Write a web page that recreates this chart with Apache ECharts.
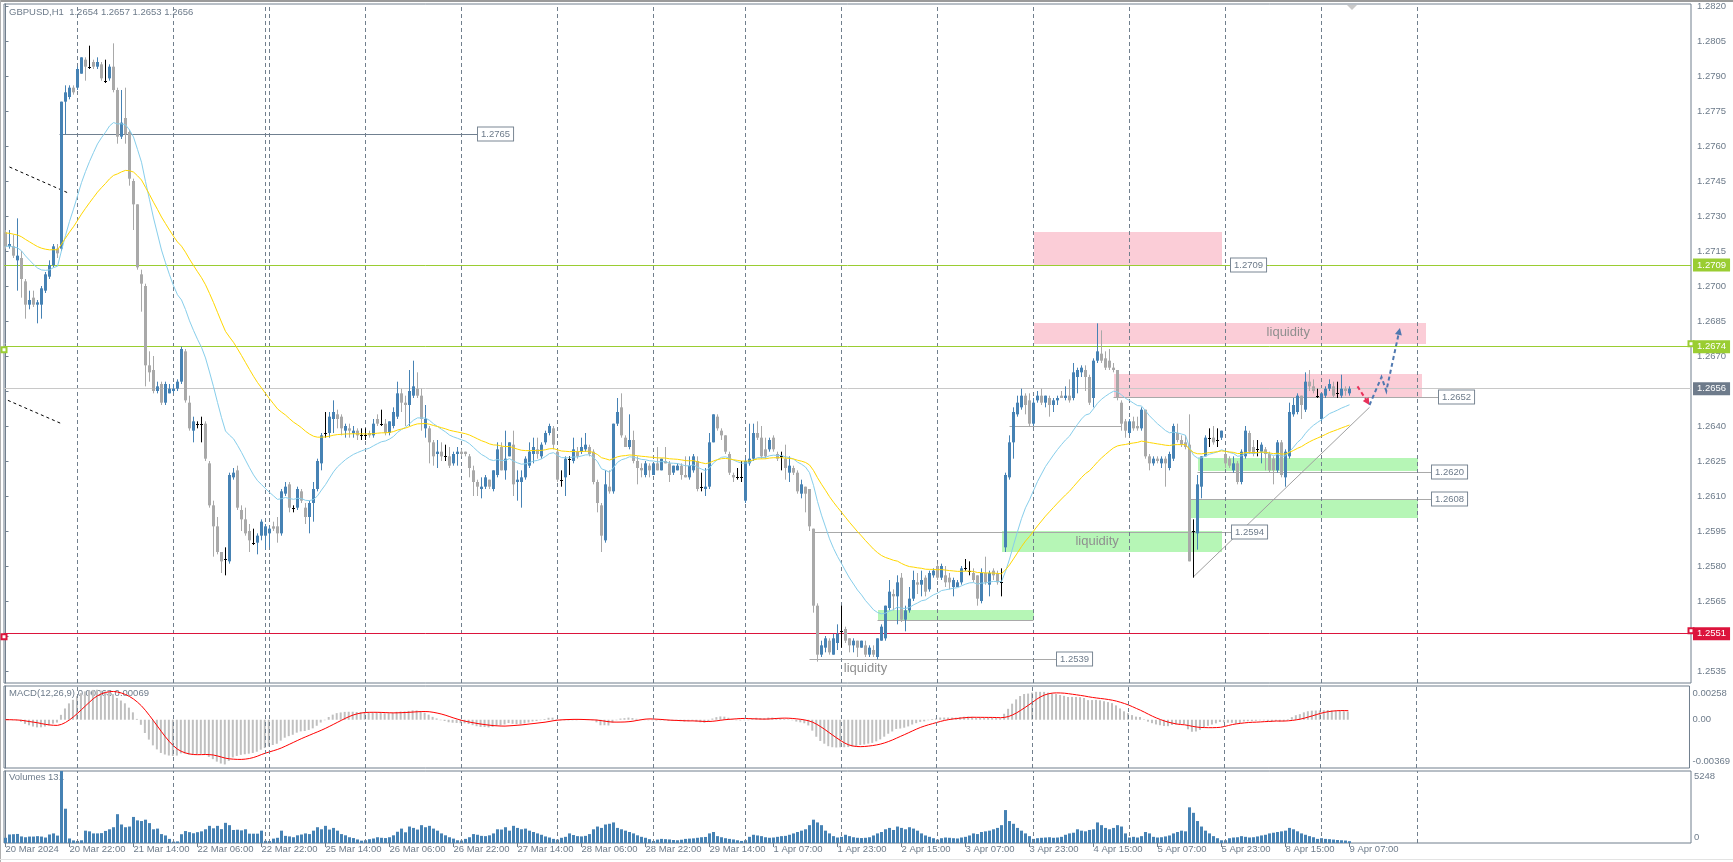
<!DOCTYPE html>
<html><head><meta charset="utf-8">
<script src="https://cdn.jsdelivr.net/npm/echarts@6/dist/echarts.min.js"></script>
<style>html,body{margin:0;padding:0;background:#fff;}#c{width:1733px;height:862px;}</style>
</head><body><div id="c"></div>
<script>
// ---------------- DATA (GBPUSD H1, 20 Mar 2024 06:00 .. 9 Apr 2024 07:00) ----------------
const opens = [
1.2723,1.2717,1.2717,1.2711,1.2712,1.2702,1.2692,1.2695,1.2692,1.2692,
1.2698,1.2704,1.2709,1.2716,1.2716,1.2779,1.2781,1.2785,1.2785,1.2791,
1.2797,1.2794,1.2796,1.2794,1.2795,1.2788,1.2789,1.2794,1.2784,1.2764,
1.2772,1.2766,1.2745,1.2735,1.2705,1.2700,1.2666,1.2664,1.2655,1.2658,
1.2650,1.2654,1.2655,1.2656,1.2659,1.2672,1.2650,1.2638,1.2641,1.2641,
1.2641,1.2624,1.2606,1.2597,1.2586,1.2583,1.2582,1.2618,1.2621,1.2604,
1.2600,1.2595,1.2590,1.2590,1.2593,1.2593,1.2594,1.2597,1.2597,1.2594,
1.2611,1.2615,1.2605,1.2605,1.2612,1.2605,1.2601,1.2607,1.2613,1.2624,
1.2637,1.2637,1.2643,1.2645,1.2644,1.2638,1.2639,1.2637,1.2638,1.2636,
1.2636,1.2637,1.2636,1.2643,1.2641,1.2641,1.2637,1.2640,1.2644,1.2654,
1.2650,1.2649,1.2653,1.2656,1.2653,1.2639,1.2639,1.2633,1.2628,1.2629,
1.2627,1.2627,1.2624,1.2628,1.2629,1.2629,1.2627,1.2621,1.2616,1.2613,
1.2614,1.2617,1.2613,1.2619,1.2631,1.2621,1.2627,1.2632,1.2616,1.2616,
1.2618,1.2623,1.2628,1.2630,1.2627,1.2633,1.2637,1.2639,1.2629,1.2617,
1.2618,1.2626,1.2625,1.2629,1.2629,1.2630,1.2631,1.2629,1.2616,1.2606,
1.2591,1.2614,1.2612,1.2641,1.2648,1.2635,1.2631,1.2634,1.2625,1.2622,
1.2619,1.2623,1.2619,1.2624,1.2621,1.2625,1.2624,1.2620,1.2621,1.2623,
1.2619,1.2618,1.2621,1.2625,1.2614,1.2613,1.2614,1.2633,1.2644,1.2638,
1.2636,1.2628,1.2619,1.2618,1.2618,1.2608,1.2624,1.2626,1.2637,1.2635,
1.2630,1.2630,1.2635,1.2628,1.2627,1.2626,1.2620,1.2622,1.2620,1.2611,
1.2614,1.2613,1.2596,1.2563,1.2542,1.2545,1.2548,1.2542,1.2547,1.2552,
1.2553,1.2549,1.2546,1.2548,1.2545,1.2546,1.2542,1.2544,1.2541,1.2548,
1.2549,1.2562,1.2568,1.2567,1.2575,1.2557,1.2561,1.2566,1.2573,1.2572,
1.2575,1.2570,1.2576,1.2580,1.2575,1.2576,1.2575,1.2571,1.2571,1.2573,
1.2579,1.2578,1.2577,1.2576,1.2565,1.2577,1.2572,1.2578,1.2577,1.2573,
1.2588,1.2618,1.2633,1.2645,1.2648,1.2653,1.2651,1.2641,1.2651,1.2653,
1.2650,1.2652,1.2649,1.2651,1.2653,1.2652,1.2653,1.2652,1.2661,1.2663,
1.2664,1.2661,1.2652,1.2668,1.2671,1.2669,1.2668,1.2665,1.2664,1.2650,
1.2642,1.2637,1.2642,1.2640,1.2639,1.2647,1.2627,1.2624,1.2626,1.2624,
1.2626,1.2622,1.2626,1.2637,1.2634,1.2633,1.2632,1.2595,1.2594,1.2614,
1.2627,1.2635,1.2635,1.2634,1.2635,1.2628,1.2626,1.2621,1.2624,1.2616,
1.2627,1.2637,1.2631,1.2630,1.2629,1.2630,1.2628,1.2626,1.2621,1.2633,
1.2618,1.2627,1.2645,1.2646,1.2653,1.2647,1.2659,1.2657,1.2653,1.2643,
1.2653,1.2656,1.2657,1.2654,1.2653,1.2656,1.2654];
const highs = [
1.2724,1.2724,1.2722,1.2729,1.2715,1.2703,1.2698,1.2698,1.2694,1.2700,
1.2706,1.2711,1.2718,1.2718,1.2779,1.2786,1.2786,1.2786,1.2794,1.2798,
1.2798,1.2803,1.2797,1.2798,1.2796,1.2797,1.2795,1.2804,1.2785,1.2784,
1.2785,1.2767,1.2746,1.2735,1.2707,1.2701,1.2672,1.2670,1.2659,1.2659,
1.2659,1.2658,1.2658,1.2660,1.2674,1.2673,1.2653,1.2644,1.2642,1.2644,
1.2642,1.2625,1.2608,1.2601,1.2586,1.2588,1.2620,1.2622,1.2623,1.2606,
1.2605,1.2598,1.2596,1.2594,1.2600,1.2598,1.2597,1.2599,1.2601,1.2613,
1.2616,1.2616,1.2606,1.2614,1.2613,1.2607,1.2608,1.2616,1.2626,1.2637,
1.2646,1.2646,1.2651,1.2647,1.2645,1.2641,1.2641,1.2640,1.2639,1.2639,
1.2639,1.2638,1.2643,1.2645,1.2647,1.2643,1.2642,1.2648,1.2659,1.2656,
1.2653,1.2664,1.2668,1.2663,1.2656,1.2649,1.2640,1.2634,1.2634,1.2633,
1.2632,1.2631,1.2629,1.2631,1.2630,1.2629,1.2628,1.2623,1.2617,1.2618,
1.2619,1.2617,1.2621,1.2633,1.2633,1.2638,1.2633,1.2638,1.2621,1.2621,
1.2627,1.2633,1.2635,1.2635,1.2633,1.2638,1.2641,1.2640,1.2630,1.2621,
1.2627,1.2627,1.2635,1.2631,1.2635,1.2637,1.2632,1.2630,1.2617,1.2607,
1.2621,1.2621,1.2641,1.2652,1.2654,1.2636,1.2645,1.2638,1.2627,1.2624,
1.2625,1.2624,1.2624,1.2631,1.2626,1.2631,1.2625,1.2623,1.2624,1.2624,
1.2627,1.2627,1.2628,1.2627,1.2620,1.2622,1.2637,1.2645,1.2645,1.2639,
1.2636,1.2629,1.2620,1.2622,1.2625,1.2626,1.2641,1.2641,1.2642,1.2640,
1.2635,1.2635,1.2636,1.2629,1.2629,1.2632,1.2627,1.2623,1.2621,1.2617,
1.2614,1.2613,1.2596,1.2564,1.2548,1.2550,1.2549,1.2551,1.2555,1.2563,
1.2554,1.2549,1.2549,1.2548,1.2548,1.2548,1.2546,1.2546,1.2549,1.2555,
1.2563,1.2574,1.2570,1.2576,1.2577,1.2563,1.2571,1.2578,1.2577,1.2578,
1.2576,1.2578,1.2579,1.2581,1.2581,1.2580,1.2577,1.2575,1.2574,1.2580,
1.2583,1.2582,1.2579,1.2576,1.2579,1.2584,1.2578,1.2579,1.2578,1.2579,
1.2620,1.2636,1.2648,1.2653,1.2656,1.2654,1.2654,1.2652,1.2655,1.2656,
1.2653,1.2653,1.2652,1.2653,1.2655,1.2657,1.2660,1.2667,1.2665,1.2666,
1.2666,1.2662,1.2669,1.2684,1.2681,1.2672,1.2673,1.2667,1.2664,1.2651,
1.2643,1.2643,1.2644,1.2644,1.2648,1.2647,1.2628,1.2627,1.2627,1.2627,
1.2627,1.2629,1.2641,1.2641,1.2636,1.2636,1.2645,1.2600,1.2619,1.2627,
1.2636,1.2639,1.2640,1.2639,1.2638,1.2629,1.2627,1.2627,1.2625,1.2630,
1.2640,1.2638,1.2634,1.2634,1.2633,1.2631,1.2629,1.2627,1.2634,1.2634,
1.2630,1.2650,1.2652,1.2654,1.2653,1.2663,1.2664,1.2660,1.2656,1.2654,
1.2657,1.2660,1.2659,1.2659,1.2662,1.2657,1.2657];
const lows = [
1.2716,1.2716,1.2712,1.2698,1.2695,1.2686,1.2690,1.2691,1.2684,1.2686,
1.2697,1.2703,1.2708,1.2712,1.2715,1.2765,1.2780,1.2782,1.2784,1.2791,
1.2788,1.2793,1.2793,1.2793,1.2788,1.2787,1.2788,1.2783,1.2761,1.2763,
1.2761,1.2743,1.2724,1.2707,1.2689,1.2657,1.2659,1.2654,1.2654,1.2649,
1.2649,1.2654,1.2654,1.2655,1.2658,1.2650,1.2638,1.2633,1.2639,1.2633,
1.2625,1.2605,1.2584,1.2585,1.2577,1.2576,1.2581,1.2617,1.2604,1.2595,
1.2593,1.2586,1.2589,1.2585,1.2591,1.2587,1.2588,1.2595,1.2590,1.2593,
1.2610,1.2603,1.2603,1.2604,1.2607,1.2598,1.2594,1.2599,1.2612,1.2621,
1.2635,1.2635,1.2637,1.2639,1.2636,1.2635,1.2635,1.2635,1.2634,1.2634,
1.2634,1.2635,1.2635,1.2640,1.2640,1.2636,1.2636,1.2639,1.2643,1.2646,
1.2640,1.2640,1.2652,1.2652,1.2638,1.2635,1.2624,1.2623,1.2622,1.2625,
1.2625,1.2622,1.2623,1.2623,1.2627,1.2627,1.2618,1.2610,1.2610,1.2609,
1.2613,1.2613,1.2612,1.2618,1.2621,1.2617,1.2627,1.2610,1.2608,1.2605,
1.2617,1.2622,1.2624,1.2626,1.2626,1.2632,1.2636,1.2630,1.2616,1.2614,
1.2610,1.2619,1.2624,1.2626,1.2628,1.2629,1.2627,1.2615,1.2603,1.2586,
1.2590,1.2611,1.2611,1.2640,1.2635,1.2631,1.2630,1.2624,1.2615,1.2618,
1.2618,1.2618,1.2619,1.2621,1.2621,1.2624,1.2616,1.2619,1.2621,1.2617,
1.2618,1.2617,1.2620,1.2612,1.2612,1.2610,1.2613,1.2633,1.2638,1.2634,
1.2628,1.2619,1.2616,1.2617,1.2616,1.2607,1.2623,1.2625,1.2634,1.2626,
1.2626,1.2629,1.2629,1.2625,1.2621,1.2617,1.2616,1.2619,1.2611,1.2609,
1.2603,1.2595,1.2560,1.2539,1.2541,1.2543,1.2542,1.2542,1.2544,1.2545,
1.2547,1.2543,1.2543,1.2541,1.2545,1.2541,1.2541,1.2541,1.2540,1.2548,
1.2548,1.2561,1.2561,1.2555,1.2556,1.2552,1.2560,1.2565,1.2568,1.2567,
1.2567,1.2569,1.2575,1.2574,1.2574,1.2571,1.2570,1.2567,1.2571,1.2572,
1.2578,1.2576,1.2573,1.2563,1.2564,1.2572,1.2567,1.2574,1.2572,1.2567,
1.2586,1.2617,1.2626,1.2644,1.2647,1.2645,1.2640,1.2640,1.2650,1.2649,
1.2648,1.2644,1.2646,1.2649,1.2652,1.2651,1.2650,1.2651,1.2654,1.2661,
1.2655,1.2649,1.2648,1.2667,1.2667,1.2664,1.2664,1.2663,1.2651,1.2638,
1.2635,1.2636,1.2638,1.2638,1.2638,1.2626,1.2621,1.2623,1.2624,1.2622,
1.2614,1.2621,1.2625,1.2633,1.2631,1.2630,1.2582,1.2575,1.2587,1.2609,
1.2627,1.2631,1.2632,1.2631,1.2634,1.2622,1.2622,1.2620,1.2615,1.2615,
1.2626,1.2628,1.2627,1.2627,1.2624,1.2621,1.2620,1.2615,1.2620,1.2618,
1.2614,1.2626,1.2644,1.2645,1.2643,1.2646,1.2655,1.2654,1.2652,1.2642,
1.2652,1.2655,1.2652,1.2652,1.2652,1.2653,1.2653];
const closes = [
1.2717,1.2718,1.2713,1.2713,1.2703,1.2692,1.2694,1.2692,1.2693,1.2699,
1.2705,1.2709,1.2717,1.2714,1.2779,1.2783,1.2785,1.2783,1.2793,1.2798,
1.2794,1.2794,1.2794,1.2796,1.2789,1.2788,1.2794,1.2784,1.2764,1.2770,
1.2765,1.2746,1.2735,1.2708,1.2701,1.2666,1.2663,1.2655,1.2657,1.2650,
1.2658,1.2656,1.2656,1.2659,1.2673,1.2651,1.2639,1.2642,1.2641,1.2641,
1.2626,1.2606,1.2597,1.2586,1.2582,1.2583,1.2619,1.2620,1.2605,1.2600,
1.2594,1.2591,1.2590,1.2593,1.2599,1.2597,1.2596,1.2596,1.2594,1.2612,
1.2614,1.2605,1.2605,1.2613,1.2608,1.2601,1.2607,1.2613,1.2625,1.2636,
1.2637,1.2644,1.2646,1.2643,1.2639,1.2640,1.2638,1.2638,1.2636,1.2636,
1.2636,1.2636,1.2641,1.2641,1.2641,1.2637,1.2642,1.2646,1.2654,1.2650,
1.2649,1.2655,1.2657,1.2653,1.2643,1.2643,1.2633,1.2627,1.2629,1.2627,
1.2627,1.2623,1.2628,1.2629,1.2628,1.2628,1.2622,1.2616,1.2614,1.2614,
1.2618,1.2614,1.2621,1.2630,1.2621,1.2626,1.2633,1.2615,1.2617,1.2618,
1.2626,1.2629,1.2631,1.2628,1.2632,1.2637,1.2640,1.2632,1.2617,1.2617,
1.2626,1.2626,1.2630,1.2627,1.2631,1.2632,1.2628,1.2616,1.2607,1.2593,
1.2615,1.2612,1.2641,1.2646,1.2636,1.2631,1.2634,1.2625,1.2622,1.2621,
1.2624,1.2621,1.2624,1.2621,1.2626,1.2624,1.2619,1.2623,1.2623,1.2619,
1.2618,1.2623,1.2627,1.2613,1.2614,1.2614,1.2633,1.2645,1.2639,1.2636,
1.2629,1.2620,1.2618,1.2618,1.2618,1.2625,1.2626,1.2637,1.2635,1.2627,
1.2627,1.2634,1.2630,1.2626,1.2627,1.2622,1.2623,1.2620,1.2612,1.2615,
1.2611,1.2597,1.2563,1.2542,1.2546,1.2549,1.2543,1.2549,1.2551,1.2552,
1.2548,1.2546,1.2548,1.2545,1.2548,1.2542,1.2545,1.2542,1.2549,1.2554,
1.2563,1.2569,1.2567,1.2573,1.2557,1.2561,1.2566,1.2574,1.2572,1.2574,
1.2569,1.2577,1.2578,1.2575,1.2580,1.2573,1.2573,1.2574,1.2573,1.2579,
1.2579,1.2578,1.2574,1.2566,1.2577,1.2573,1.2577,1.2576,1.2573,1.2573,
1.2619,1.2633,1.2646,1.2650,1.2653,1.2649,1.2641,1.2650,1.2653,1.2650,
1.2653,1.2649,1.2651,1.2652,1.2652,1.2653,1.2651,1.2663,1.2664,1.2665,
1.2661,1.2650,1.2668,1.2672,1.2668,1.2665,1.2665,1.2664,1.2652,1.2641,
1.2638,1.2642,1.2639,1.2639,1.2647,1.2627,1.2624,1.2626,1.2625,1.2626,
1.2624,1.2628,1.2640,1.2634,1.2632,1.2631,1.2582,1.2595,1.2615,1.2627,
1.2635,1.2635,1.2633,1.2634,1.2638,1.2624,1.2623,1.2624,1.2616,1.2629,
1.2638,1.2629,1.2628,1.2630,1.2632,1.2628,1.2621,1.2621,1.2633,1.2619,
1.2629,1.2646,1.2649,1.2653,1.2649,1.2659,1.2657,1.2655,1.2653,1.2654,
1.2656,1.2658,1.2653,1.2654,1.2656,1.2655,1.2656];
const volumes = [
380,620,640,660,480,420,470,470,500,470,400,620,700,540,5248,2500,330,190,
150,200,900,850,700,700,720,880,1000,1150,2100,1350,1150,1200,1900,1650,1600,1700,1450,1000,1050,650,550,300,
100,120,640,870,790,710,790,850,1000,1250,1070,1250,1010,1470,1300,950,970,920,1000,680,680,680,900,160,
150,320,380,900,520,480,420,560,620,700,650,900,1150,1000,1250,980,1100,900,650,560,420,360,260,170,
200,280,330,420,380,360,420,560,820,1050,780,1200,1100,980,1300,1150,1250,1050,900,700,560,420,320,200,
180,300,420,650,600,520,500,560,700,1000,980,1150,900,1250,1100,1000,1050,900,800,700,600,480,400,300,
250,380,450,700,580,500,480,520,650,1000,1200,1100,1350,1400,1500,1100,1000,900,800,700,560,450,380,280,
150,250,300,280,260,220,200,240,300,320,340,380,420,440,700,800,500,420,350,300,260,200,150,
200,450,600,550,500,420,380,400,450,500,520,600,700,800,900,1000,1300,1700,1500,1300,900,700,500,400,
450,600,500,420,380,360,380,420,550,700,800,1000,1100,950,1200,1100,1000,1150,1050,900,700,550,450,350,
250,350,400,380,350,330,400,450,550,700,650,800,850,900,1000,1100,1300,2400,1600,1400,1100,900,700,500,
300,350,380,400,420,380,400,450,600,700,750,1000,900,850,950,1000,1500,1300,1100,1000,1100,1300,1200,700,
400,450,400,500,800,700,450,400,420,480,550,700,800,900,850,2600,2200,1600,1200,900,700,500,350,200,
200,350,400,420,500,450,400,420,480,550,600,700,750,800,850,900,1100,1000,850,700,600,500,420,300,
350,300,280,250,220,200,180,131];

// time axis: bar index of each labelled tick and its text
const xTickIdx = [0,16,32,48,64,80,96,112,128,144,160,176,192,208,224,240,256,272,288,304,320,336];
const xTickText = ['20 Mar 2024','20 Mar 22:00','21 Mar 14:00','22 Mar 06:00','22 Mar 22:00','25 Mar 14:00',
  '26 Mar 06:00','26 Mar 22:00','27 Mar 14:00','28 Mar 06:00','28 Mar 22:00','29 Mar 14:00','1 Apr 07:00',
  '1 Apr 23:00','2 Apr 15:00','3 Apr 07:00','3 Apr 23:00','4 Apr 15:00','5 Apr 07:00','5 Apr 23:00',
  '8 Apr 15:00','9 Apr 07:00'];
// day separators (bar index where a new day starts)
const separators = [18,42,65,66,90,114,138,162,185,209,233,257,281,305,329,353];
// price axis tick labels
const priceTicks = [1.2535,1.2550,1.2565,1.2580,1.2595,1.2610,1.2625,1.2640,1.2655,1.2670,
  1.2685,1.2700,1.2715,1.2730,1.2745,1.2760,1.2775,1.2790,1.2805,1.2820];
const macdTicks = [0.00258, 0, -0.00369];
const volTicks = [5248, 0];

// drawn objects (bar index / price)
const axisLevels = [1.2709, 1.2674, 1.2656, 1.2551];
const pinkZones = [[257,304,1.2709,1.2723],[257,355,1.26754,1.26843],[277,354,1.26524,1.26623]];
const greenZones = [[249,304,1.2586,1.2595],[218,257,1.25569,1.25611],[298,353,1.26205,1.26262],[296,353,1.26007,1.26088]];
const levelLines = [[13.5,118.1,1.2765],[201,262.9,1.2540],[202,306.6,1.25947],[218,257,1.25569],[251,279,1.2640],
  [277,358.4,1.26524],[298,356.6,1.26205],[296,356.6,1.26088],[304,306.4,1.2709]];
const levelTags = [[118.1,1.2765],[262.9,1.2540],[306.6,1.25947],[358.4,1.26524],[356.6,1.26205],[356.6,1.26088],[306.4,1.2709]];
const levelTagText = ['1.2765','1.2539','1.2594','1.2652','1.2620','1.2608','1.2709'];
const zoneTexts = [[320.7,1.26800],[272.9,1.25906],[215,1.25363]];
const zoneTextLabel = ['liquidity','liquidity','liquidity'];
const trendLine = [[297,1.25754],[341,1.2648]];
const oldTrend1 = [[1,1.2751],[15.5,1.2740]];
const oldTrend2 = [[0.6,1.2651],[14,1.2641]];
const redArrow = [[338,1.2657],[341,1.2649]];
const blueArrow = [[341,1.2649],[344,1.2661],[345.2,1.2655],[348.6,1.2682]];
const maFastSeed = 1.2717, maSlowSeed = 1.2723;

// ---------------- STYLE / LAYOUT ----------------
const FONT = "'Liberation Sans', Arial, sans-serif";
const TXT = '#6d7b8a', BORDER = '#717f8d';
const UP = '#4682b4', DOWN = '#a9a9a9', DOJI = '#000000';
const xMin = -0.375, xMax = 421.375;
const priceMin = 1.252986, priceMax = 1.282086;

function ema(src, period, seed) {
  const k = 2 / (period + 1); const out = []; let prev = seed;
  for (let i = 0; i < src.length; i++) { prev = prev + k * (src[i] - prev); out.push(prev); }
  return out;
}
const maFast = ema(closes, 20, maFastSeed);
const maSlow = ema(closes, 50, maSlowSeed);
const e12 = ema(closes, 12, closes[0]), e26 = ema(closes, 26, closes[0]);
const macd = closes.map((c, i) => e12[i] - e26[i]);
const signal = macd.map((v, i) => { const s = Math.max(0, i - 8); let t = 0; for (let j = s; j <= i; j++) t += macd[j]; return t / (i - s + 1); });

const candleData = closes.map((c, i) => [i, opens[i], highs[i], lows[i], c]);

function zoneSeries(zones, color) {
  return {type:'custom', xAxisIndex:0, yAxisIndex:0, z:2, clip:true, silent:true,
    data: zones.map(z => [z[0], z[1], z[2], z[3]]),
    renderItem: (p, api) => {
      const a = api.coord([api.value(0), api.value(3)]), b = api.coord([api.value(1), api.value(2)]);
      return {type:'rect', shape:{x:Math.round(a[0]), y:Math.round(a[1]), width:Math.round(b[0]-a[0]), height:Math.round(b[1]-a[1])}, style:{fill:color}};
    }};
}
function arrowSeries(points, color) {
  return {type:'custom', xAxisIndex:0, yAxisIndex:0, z:9, clip:false, silent:true, data:[0],
    renderItem: (p, api) => {
      const pts = points.map(q => api.coord(q));
      const n = pts.length, a = pts[n-2], b = pts[n-1];
      const ang = Math.atan2(b[1]-a[1], b[0]-a[0]), L = 7, W = 3.5;
      const head = [[b[0], b[1]],
        [b[0]-L*Math.cos(ang)+W*Math.sin(ang), b[1]-L*Math.sin(ang)-W*Math.cos(ang)],
        [b[0]-L*Math.cos(ang)-W*Math.sin(ang), b[1]-L*Math.sin(ang)+W*Math.cos(ang)]];
      const body = pts.slice(); const m = body.length - 1;
      body[m] = [b[0]-L*0.8*Math.cos(ang), b[1]-L*0.8*Math.sin(ang)];
      return {type:'group', children:[
        {type:'polyline', shape:{points:body}, style:{stroke:color, lineWidth:2, lineDash:[4,3], fill:null}},
        {type:'polygon', shape:{points:head}, style:{fill:color}}]};
    }};
}
function sepMarkLine() {
  return {silent:true, symbol:['none','none'], label:{show:false}, precision:6,
    lineStyle:{color:BORDER, type:[4,3], width:1},
    data: separators.map(s => ({xAxis:s}))};
}
const axisLevelStyles = [
  {line:'#9acd32', box:'#9acd32', sym:false},
  {line:'#9acd32', box:'#9acd32', sym:true},
  {line:'#c8c8c8', box:'#6e7b8b', sym:false},
  {line:'#dc143c', box:'#dc143c', sym:true}];
function axisLevelSeries(k) {
  const st = axisLevelStyles[k];
  const ml = {silent:true, precision:6, symbol: st.sym ? ['emptyRect','emptyRect'] : ['none','none'], symbolSize:5,
      lineStyle:{color:st.line, type:'solid', width:1},
      label:{show:true, position:'end', distance:2, formatter: (o) => Number(o.value).toFixed(4),
        backgroundColor:st.box, color:'#ffffff', fontSize:9.5, fontFamily:FONT, padding:[2,4,1,4]},
      data:[{yAxis: axisLevels[k]}]};
  if (st.sym) ml.symbolOffset = [[-3, 0], [-3, 0]];
  return {type:'line', xAxisIndex:0, yAxisIndex:0, z:7, data:[], silent:true, markLine:ml};
}
const levelColors = ['#708090','#a9a9a9','#a9a9a9','#a9a9a9','#a9a9a9','#a9a9a9','#a9a9a9','#a9a9a9','#a9a9a9'];

const chart = echarts.init(document.getElementById('c'));
const option = {
  animation:false, backgroundColor:'#ffffff', textStyle:{fontFamily:FONT},
  grid:[
    {left:4, top:4, width:1687, height:679, show:true, borderColor:BORDER, borderWidth:1},
    {left:4, top:686, width:1687, height:82, show:true, borderColor:BORDER, borderWidth:1},
    {left:4, top:771, width:1687, height:72, show:true, borderColor:BORDER, borderWidth:1}],
  xAxis:[0,1,2].map(k => ({type:'value', gridIndex:k, min:xMin, max:xMax, splitLine:{show:false},
    axisLine:{show:false},
    axisTick: k === 2 ? {show:true, length:4, customValues:xTickIdx, lineStyle:{color:BORDER}} : {show:false},
    axisLabel: k === 2 ? {show:true, customValues:xTickIdx, formatter:(v) => xTickText[xTickIdx.indexOf(v)],
      align:'left', margin:1, color:TXT, fontSize:9.5, fontFamily:FONT, showMinLabel:true, showMaxLabel:true} : {show:false}})),
  yAxis:[
    {type:'value', gridIndex:0, position:'right', min:priceMin, max:priceMax, splitLine:{show:false},
      axisLine:{show:true, lineStyle:{color:BORDER}},
      axisTick:{show:true, length:3, customValues:priceTicks, lineStyle:{color:BORDER}},
      axisLabel:{customValues:priceTicks, formatter:(v) => v.toFixed(4), color:TXT, fontSize:9.5, fontFamily:FONT, margin:6}},
    {type:'value', gridIndex:1, position:'right', min:-0.00369, max:0.00258, splitLine:{show:false},
      axisLine:{show:true, lineStyle:{color:BORDER}},
      axisTick:{show:true, length:3, customValues:[0], lineStyle:{color:BORDER}},
      axisLabel:{customValues:macdTicks, showMinLabel:true, showMaxLabel:true, margin:3,
        formatter:(v) => v === 0 ? '{m|0.00}' : (v > 0 ? '{t|' + v.toFixed(5) + '}' : '{b|' + v.toFixed(5) + '}'),
        rich:{t:{padding:[14,0,0,0], color:TXT, fontSize:9.5, fontFamily:FONT}, m:{color:TXT, fontSize:9.5, fontFamily:FONT},
          b:{padding:[0,0,14,0], color:TXT, fontSize:9.5, fontFamily:FONT}}}},
    {type:'value', gridIndex:2, position:'right', min:0, max:5248, splitLine:{show:false},
      axisLine:{show:true, lineStyle:{color:BORDER}}, axisTick:{show:false},
      axisLabel:{customValues:volTicks, showMinLabel:true, showMaxLabel:true, margin:3,
        formatter:(v) => v === 0 ? '{b|0}' : '{t|' + v + '}',
        rich:{t:{padding:[10,0,0,0], color:TXT, fontSize:9.5, fontFamily:FONT}, b:{padding:[0,0,12,0], color:TXT, fontSize:9.5, fontFamily:FONT}}}}],
  graphic:[
    {type:'rect', shape:{x:0, y:0, width:1733, height:2}, style:{fill:'#9a9a9a'}, silent:true},
    {type:'rect', shape:{x:0, y:0, width:1, height:862}, style:{fill:'#b0b0b0'}, silent:true},
    {type:'rect', shape:{x:0, y:859, width:1733, height:1}, style:{fill:'#e3e3e3'}, silent:true},
    {type:'polygon', shape:{points:[[1347,5],[1357,5],[1352,10]]}, style:{fill:'#c8c8c8'}, silent:true},
    {type:'text', x:9, y:7, z:0, style:{text:'GBPUSD,H1  1.2654 1.2657 1.2653 1.2656', fill:TXT, font:'9.5px ' + FONT}, silent:true},
    {type:'text', x:9, y:688, z:0, style:{text:'MACD(12,26,9) 0.00063 0.00069', fill:TXT, font:'9.5px ' + FONT}, silent:true},
    {type:'text', x:9, y:772, z:0, style:{text:'Volumes 131', fill:TXT, font:'9.5px ' + FONT}, silent:true}],
  series:[
    {type:'line', xAxisIndex:0, yAxisIndex:0, z:1, data:[], silent:true, markLine:sepMarkLine()},
    zoneSeries(pinkZones, '#fbcdd7'),
    zoneSeries(greenZones, '#b6f6b6'),
    {type:'custom', xAxisIndex:0, yAxisIndex:0, z:3, clip:false, silent:true, data:levelLines,
      renderItem:(p, api) => {
        const a = api.coord([api.value(0), api.value(2)]), b = api.coord([api.value(1), api.value(2)]);
        const y = Math.round(a[1]) + 0.5;
        return {type:'line', shape:{x1:a[0], y1:y, x2:b[0], y2:y}, style:{stroke:levelColors[p.dataIndex], lineWidth:1}};
      }},
    {type:'line', xAxisIndex:0, yAxisIndex:0, z:3, data:trendLine, showSymbol:false, silent:true, lineStyle:{color:'#a0a0a0', width:1}},
    {type:'line', xAxisIndex:0, yAxisIndex:0, z:3, data:oldTrend1, showSymbol:false, silent:true, lineStyle:{color:'#000000', width:1, type:[3,3]}},
    {type:'line', xAxisIndex:0, yAxisIndex:0, z:3, data:oldTrend2, showSymbol:false, silent:true, lineStyle:{color:'#000000', width:1, type:[3,3]}},
    {type:'custom', xAxisIndex:0, yAxisIndex:0, z:5, clip:true, silent:true, data:candleData,
      encode:{x:0, y:[1,2,3,4]},
      renderItem:(p, api) => {
        const i = api.value(0), o = api.value(1), h = api.value(2), l = api.value(3), c = api.value(4);
        const pO = api.coord([i, o]), x = pO[0];
        const yO = pO[1], yC = api.coord([i, c])[1], yH = api.coord([i, h])[1], yL = api.coord([i, l])[1];
        const col = c > o ? UP : (c < o ? DOWN : DOJI);
        const ch = [{type:'line', shape:{x1:x, y1:yH, x2:x, y2:yL}, style:{stroke:col, lineWidth:1}}];
        if (c === o) {
          const yy = Math.round(yO) + 0.5;
          ch.push({type:'line', shape:{x1:x-1.5, y1:yy, x2:x+1.5, y2:yy}, style:{stroke:col, lineWidth:1}});
        } else {
          const t = Math.min(yO, yC), b = Math.max(yO, yC);
          ch.push({type:'rect', shape:{x:x-1.5, y:t, width:3, height:Math.max(1, b-t)}, style:{fill:col}});
        }
        return {type:'group', children:ch};
      }},
    {type:'line', xAxisIndex:0, yAxisIndex:0, z:6, data:maFast.map((v, i) => [i, v]), showSymbol:false, silent:true, lineStyle:{color:'#87ceeb', width:1}},
    {type:'line', xAxisIndex:0, yAxisIndex:0, z:6, data:maSlow.map((v, i) => [i, v]), showSymbol:false, silent:true, lineStyle:{color:'#ffd700', width:1}},
    axisLevelSeries(0), axisLevelSeries(1), axisLevelSeries(2), axisLevelSeries(3),
    {type:'custom', xAxisIndex:0, yAxisIndex:0, z:8, clip:false, silent:true, data:levelTags,
      renderItem:(p, api) => {
        const q = api.coord([api.value(0), api.value(1)]);
        return {type:'text', x:Math.round(q[0]), y:Math.round(q[1]), style:{text:levelTagText[p.dataIndex], fill:TXT,
          font:'9.5px ' + FONT, align:'left', verticalAlign:'middle', backgroundColor:'#ffffff',
          borderColor:'#7a8794', borderWidth:1, padding:[2,3,1,3]}};
      }},
    {type:'custom', xAxisIndex:0, yAxisIndex:0, z:4, clip:false, silent:true, data:zoneTexts,
      renderItem:(p, api) => {
        const q = api.coord([api.value(0), api.value(1)]);
        return {type:'text', x:q[0], y:q[1], style:{text:zoneTextLabel[p.dataIndex], fill:'#8f8f8f',
          font:'13px ' + FONT, align:'center', verticalAlign:'middle'}};
      }},
    arrowSeries(redArrow, '#e8315a'),
    arrowSeries(blueArrow, '#4f78b0'),
    {type:'custom', xAxisIndex:1, yAxisIndex:1, z:2, clip:true, silent:true, data:macd.map((v, i) => [i, v]),
      markLine:sepMarkLine(),
      renderItem:(p, api) => {
        const a = api.coord([api.value(0), 0]), b = api.coord([api.value(0), api.value(1)]);
        const t = Math.min(a[1], b[1]), h = Math.abs(b[1] - a[1]);
        return {type:'rect', shape:{x:a[0]-1.5, y:t, width:2, height:Math.max(0.5, h)}, style:{fill:'#c0c0c0'}};
      }},
    {type:'line', xAxisIndex:1, yAxisIndex:1, z:3, data:signal.map((v, i) => [i, v]), showSymbol:false, silent:true, lineStyle:{color:'#ff0000', width:1}},
    {type:'custom', xAxisIndex:2, yAxisIndex:2, z:2, clip:true, silent:true, data:volumes.map((v, i) => [i, v]),
      markLine:sepMarkLine(),
      renderItem:(p, api) => {
        const a = api.coord([api.value(0), 0]), b = api.coord([api.value(0), api.value(1)]);
        return {type:'rect', shape:{x:a[0]-1.5, y:b[1], width:3, height:a[1]-b[1]}, style:{fill:'#4682b4'}};
      }}
  ]
};
chart.setOption(option);
</script>
</body></html>
